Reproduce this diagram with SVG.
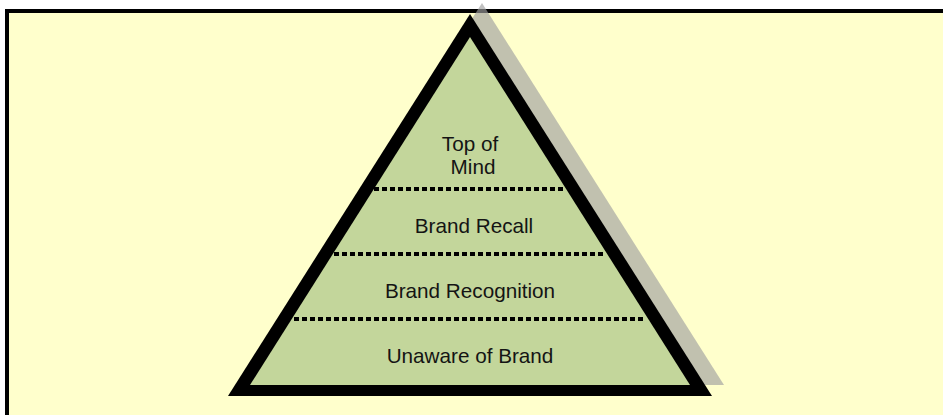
<svg xmlns="http://www.w3.org/2000/svg" width="943" height="415" viewBox="0 0 943 415">
<style>
.lbl{font-family:"Liberation Sans",Arial,sans-serif;font-size:20.7px;fill:#141414;text-anchor:middle}
.dash{stroke:#000;stroke-width:4;stroke-dasharray:5 3;fill:none}
</style>
<rect x="0" y="0" width="943" height="415" fill="#ffffff"/>
<rect id="frame" x="7" y="11" width="960" height="430" fill="#ffffcc" stroke="#000" stroke-width="4"/>
<g id="pyramid">
<polygon id="shadow" points="482,3 240,385 724,385" fill="#a0a0a0" fill-opacity="0.65"/>
<polygon id="outline" points="470,14 228,396 712,396" fill="#000"/>
<polygon id="body" points="470,37 250,385 690,385" fill="#c3d69b"/>
</g>
<g id="connectors">
<line class="dash" x1="374" y1="189" x2="566" y2="189"/>
<line class="dash" x1="334" y1="254" x2="606" y2="254"/>
<line class="dash" x1="294" y1="319" x2="646" y2="319"/>
</g>
<g id="level-top"><text class="lbl" x="470" y="151">Top of</text><text class="lbl" x="473" y="174.3">Mind</text></g>
<g id="level-recall"><text class="lbl" x="474" y="232.5">Brand Recall</text></g>
<g id="level-recognition"><text class="lbl" x="470" y="297.7">Brand Recognition</text></g>
<g id="level-unaware"><text class="lbl" x="470" y="362.7">Unaware of Brand</text></g>
</svg>
